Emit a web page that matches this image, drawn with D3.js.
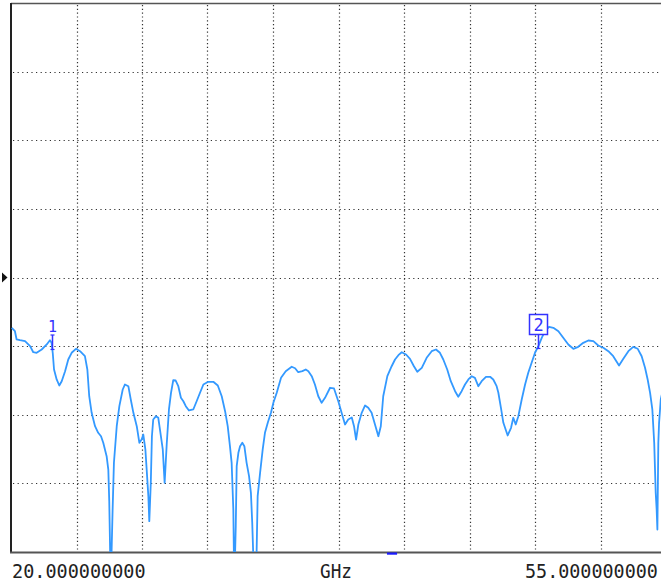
<!DOCTYPE html>
<html><head><meta charset="utf-8">
<script src="https://cdn.jsdelivr.net/npm/d3@7"></script>
<style>html,body{margin:0;padding:0;background:#fff;overflow:hidden}</style>
</head><body>
<svg id="c" width="661" height="582"></svg>
<script>
const freqGHz = [20.04,20.21,20.30,20.48,20.75,21.02,21.19,21.37,21.64,21.91,22.08,22.17,22.23,22.30,22.44,22.58,22.71,22.89,23.06,23.24,
23.47,23.69,23.95,24.08,24.18,24.31,24.49,24.66,24.81,24.93,25.11,25.20,25.25,25.33,25.43,25.50,25.65,25.79,25.97,26.09,
26.27,26.40,26.54,26.72,26.86,26.98,27.07,27.18,27.25,27.34,27.39,27.47,27.53,27.60,27.75,27.87,27.96,28.11,28.21,28.32,
28.44,28.55,28.67,28.80,28.94,29.08,29.21,29.34,29.51,29.74,29.92,30.10,30.28,30.54,30.81,31.05,31.26,31.44,31.58,31.70,
31.79,31.88,31.93,32.01,32.06,32.15,32.24,32.36,32.47,32.59,32.72,32.82,32.89,33.00,33.09,33.18,33.31,33.45,33.57,33.72,
33.89,34.02,34.20,34.43,34.68,35.00,35.18,35.35,35.57,35.75,35.89,36.07,36.24,36.42,36.60,36.78,37.05,37.26,37.49,37.72,
37.85,38.02,38.21,38.33,38.44,38.56,38.74,38.92,39.09,39.27,39.45,39.63,39.76,39.89,40.11,40.34,40.52,40.70,40.88,41.11,
41.32,41.53,41.71,41.95,42.21,42.48,42.71,42.92,43.10,43.31,43.50,43.73,43.90,44.08,44.26,44.44,44.62,44.79,44.97,45.15,
45.38,45.60,45.77,45.95,46.04,46.18,46.31,46.54,46.72,46.84,46.97,47.11,47.29,47.47,47.64,47.82,48.00,48.18,48.36,48.53,
48.75,48.98,49.25,49.51,49.78,50.05,50.31,50.58,50.85,51.12,51.38,51.65,51.92,52.18,52.49,52.72,52.99,53.25,53.49,53.70,
53.88,54.02,54.15,54.27,54.37,54.45,54.50,54.54,54.59,54.63,54.72,54.84];
const levelDb = [-7.33,-7.83,-9.03,-9.14,-9.28,-10.01,-10.89,-10.97,-10.49,-9.76,-9.14,-9.52,-10.97,-13.41,-14.86,-15.74,-15.11,-13.65,-11.95,-10.97,
-10.39,-10.74,-11.47,-13.41,-17.30,-19.72,-21.67,-22.63,-23.13,-24.09,-26.04,-27.98,-32.60,-45.0,-33.81,-27.00,-21.67,-18.75,-16.32,-15.59,
-15.84,-17.78,-19.72,-21.67,-24.09,-23.61,-22.88,-25.06,-27.98,-31.87,-35.51,-29.92,-23.13,-20.69,-20.21,-20.44,-22.15,-25.06,-29.92,-24.34,
-19.23,-16.80,-14.97,-15.01,-15.84,-17.53,-18.03,-18.75,-19.38,-19.23,-18.03,-16.80,-15.59,-15.20,-15.20,-15.74,-17.30,-19.48,-21.67,-24.58,
-27.00,-33.81,-45.0,-36.24,-27.50,-25.54,-24.58,-24.09,-24.58,-27.00,-28.95,-31.37,-35.75,-45.0,-45.0,-31.87,-28.46,-25.06,-22.63,-21.17,
-19.72,-18.26,-16.80,-14.62,-13.65,-13.01,-13.22,-13.80,-13.65,-13.41,-13.65,-14.38,-15.59,-17.30,-18.26,-17.53,-16.07,-16.17,-18.03,-20.21,
-21.42,-20.69,-20.40,-21.67,-23.61,-21.42,-19.72,-18.65,-18.99,-19.72,-21.42,-23.13,-21.67,-17.30,-14.38,-12.93,-11.95,-11.32,-10.89,-11.22,
-11.85,-12.93,-13.74,-13.16,-11.70,-10.74,-10.49,-10.97,-11.95,-13.41,-15.11,-16.57,-17.38,-16.57,-15.59,-14.86,-14.38,-14.62,-15.84,-15.11,
-14.47,-14.47,-14.86,-15.84,-16.76,-18.99,-21.17,-23.02,-21.90,-20.44,-21.42,-20.21,-17.78,-15.59,-13.89,-12.43,-10.97,-10.01,-8.79,-7.83,
-7.18,-7.33,-7.83,-8.79,-9.76,-10.39,-10.10,-9.52,-9.18,-9.28,-9.91,-10.24,-10.74,-11.47,-12.82,-11.85,-10.74,-10.10,-10.39,-11.47,
-13.16,-14.86,-16.80,-19.23,-24.09,-31.37,-33.81,-36.72,-24.09,-21.17,-17.78,-16.30];

const startLabel = "20.000000000";
const stopLabel = "55.000000000";
const unitLabel = "GHz";
const markerNames = ["1", "2"];
const markerFreqGHz = [22.19, 48.14];
const markerLevelDb = [-10.49, -10.35];
const refLevelDb = 0;
const indicatorGHz = [40.09, 40.63];

const svg = d3.select("#c");
const x = d3.scaleLinear().domain([20, 55]).range([11, 666]);
const y = d3.scaleLinear().domain([-40, 40]).range([552, 3]);

svg.append("defs").append("clipPath").attr("id", "plot")
  .append("rect").attr("x", 11).attr("y", 3).attr("width", 655).attr("height", 549);

// grid
const vGrid = d3.range(1, 10).map(i => 20 + i * 3.5);
const hGrid = d3.range(1, 8).map(i => -40 + i * 10);
svg.append("g").selectAll("line").data(vGrid).join("line")
  .attr("x1", d => Math.round(x(d)) + 0.5).attr("x2", d => Math.round(x(d)) + 0.5)
  .attr("y1", 5).attr("y2", 551)
  .attr("stroke", "#333").attr("stroke-width", 1.2).attr("stroke-dasharray", "1.2,2.6");
svg.append("g").selectAll("line").data(hGrid).join("line")
  .attr("y1", d => Math.round(y(d)) + 0.5).attr("y2", d => Math.round(y(d)) + 0.5)
  .attr("x1", 13).attr("x2", 661)
  .attr("stroke", "#333").attr("stroke-width", 1.2).attr("stroke-dasharray", "1.2,3.4");

// frame
svg.append("line").attr("x1", 11).attr("x2", 661).attr("y1", 3.5).attr("y2", 3.5)
  .attr("stroke", "#555").attr("stroke-width", 1.6);
svg.append("line").attr("x1", 11).attr("x2", 11).attr("y1", 3).attr("y2", 553)
  .attr("stroke", "#222").attr("stroke-width", 2);
svg.append("line").attr("x1", 10).attr("x2", 661).attr("y1", 552.5).attr("y2", 552.5)
  .attr("stroke", "#555").attr("stroke-width", 2);

// trace
const pts = freqGHz.map((f, i) => [f, levelDb[i]]);
svg.append("path").datum(pts)
  .attr("clip-path", "url(#plot)")
  .attr("fill", "none").attr("stroke", "#3399ff").attr("stroke-width", 1.8)
  .attr("stroke-linejoin", "round")
  .attr("d", d3.line().x(d => x(d[0])).y(d => y(d[1])));

// reference arrow
const ry = y(refLevelDb);
svg.append("path").attr("d", `M2,${ry - 5}L7.5,${ry}L2,${ry + 5}Z`).attr("fill", "#111");

// bottom indicator
svg.append("rect").attr("x", x(indicatorGHz[0])).attr("y", 552.5)
  .attr("width", x(indicatorGHz[1]) - x(indicatorGHz[0])).attr("height", 2.2)
  .attr("fill", "#1a1aff");

// markers
const mc = "#3333ff";
markerNames.forEach((name, i) => {
  const mx = Math.round(x(markerFreqGHz[i])) + 0.5;
  const my = y(markerLevelDb[i]);
  const g = svg.append("g");
  if (i === 0) {
    g.append("text").attr("x", mx).attr("y", 332).attr("text-anchor", "middle")
      .attr("font-family", "DejaVu Sans Mono").attr("font-size", 15).attr("fill", mc).text(name);
    g.append("line").attr("x1", mx).attr("x2", mx).attr("y1", 335).attr("y2", my).attr("stroke", mc).attr("stroke-width", 1.5);
    g.append("line").attr("x1", mx - 2).attr("x2", mx + 2).attr("y1", 335).attr("y2", 335).attr("stroke", mc).attr("stroke-width", 1.2);
    g.append("line").attr("x1", mx - 2).attr("x2", mx + 2).attr("y1", my).attr("y2", my).attr("stroke", mc).attr("stroke-width", 1.2);
  } else {
    g.append("rect").attr("x", mx - 9).attr("y", 314.5).attr("width", 18).attr("height", 20)
      .attr("fill", "#fff").attr("stroke", mc).attr("stroke-width", 1.5);
    g.append("text").attr("x", mx).attr("y", 330.5).attr("text-anchor", "middle")
      .attr("font-family", "DejaVu Sans Mono").attr("font-size", 17).attr("fill", mc).text(name);
    g.append("line").attr("x1", mx).attr("x2", mx).attr("y1", 335).attr("y2", my).attr("stroke", mc).attr("stroke-width", 1.5);
    g.append("line").attr("x1", mx - 2).attr("x2", mx + 2).attr("y1", my).attr("y2", my).attr("stroke", mc).attr("stroke-width", 1.2);
  }
});

// axis labels (font sized to natural width, stretched vertically about baseline)
const lab = (t, x0, fs) => svg.append("text")
  .attr("transform", `translate(${x0},578) scale(1,1.08)`)
  .attr("font-family", "DejaVu Sans Mono").attr("font-size", fs).attr("fill", "#222").text(t);
lab(startLabel, 12, 18.5);
lab(unitLabel, 320, 17.7);
lab(stopLabel, 525, 18.4);
</script>
</body></html>
